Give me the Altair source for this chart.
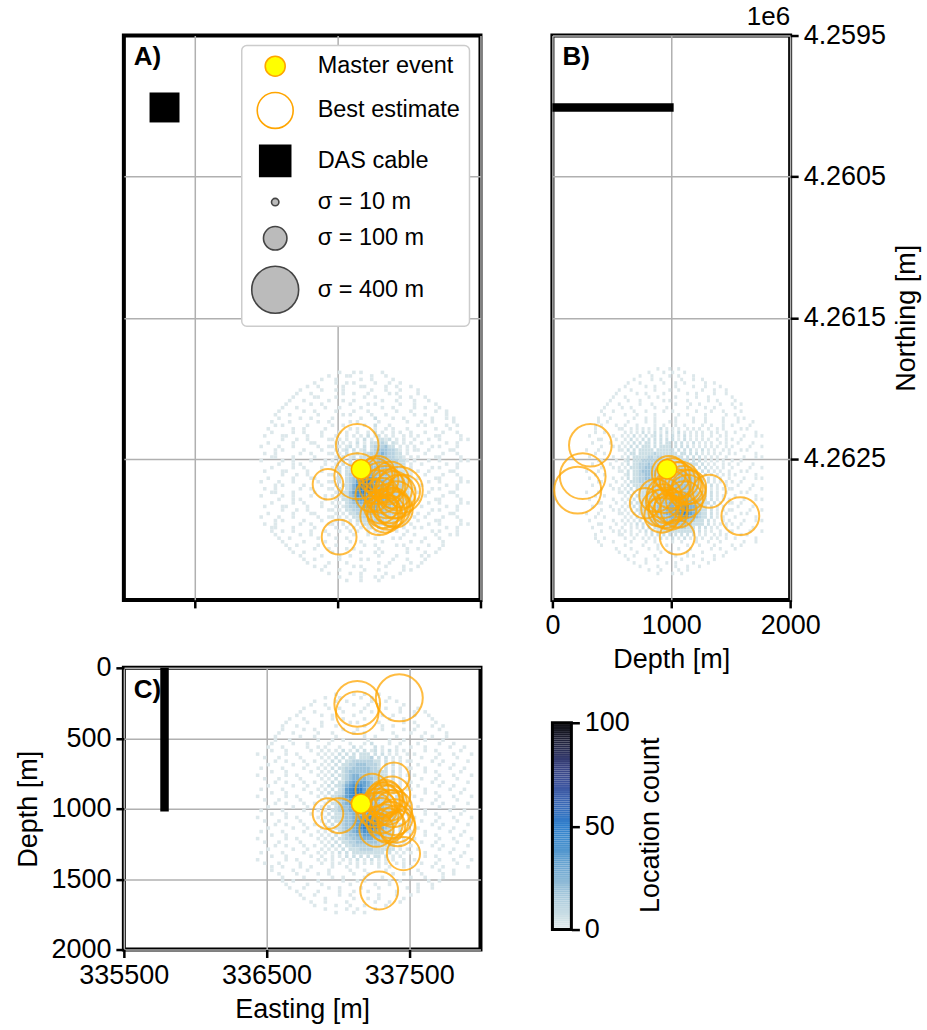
import altair as alt
import pandas as pd

FONT = "Liberation Sans"
ORANGE = "#ffa500"

# ---------------------------------------------------------------- extents
EAST_RANGE = [335500, 338000]
NORTH_RANGE = [4259500, 4263500]
DEPTH_RANGE = [0, 2000]

# ---------------------------------------------------------- master event
master_east = [337163]
master_north = [4262574]
master_depth = [965]

# ------------------------------------------------ best-estimate locations
event_east = [337136, 337136, 337431, 337290, 337460, 336931, 337009, 337393,
              337260, 337300, 337330, 337350, 337280, 337390, 337420, 337310,
              337340, 337360, 337380, 337320, 337350, 337300, 337400, 337270,
              337370, 337240, 337330, 337410]
event_north = [4262404, 4262623, 4262722, 4262906, 4262730, 4262680, 4263055, 4262815,
               4262620, 4262650, 4262680, 4262700, 4262600, 4262720, 4262740, 4262760,
               4262800, 4262830, 4262850, 4262870, 4262880, 4262840, 4262860, 4262700,
               4262650, 4262760, 4262900, 4262790]
event_depth = [319, 255, 213, 1581, 1319, 1035, 1050, 780,
               1010, 1050, 1100, 1120, 980, 1000, 1140, 940,
               930, 960, 900, 950, 990, 1000, 1060, 1150,
               1080, 870, 920, 1110]
event_sigma = [330, 380, 400, 260, 200, 170, 220, 170,
               220, 230, 240, 220, 210, 250, 230, 220,
               210, 230, 240, 210, 220, 200, 230, 210,
               240, 200, 220, 250]

# ------------------------------------------------------------- DAS cable
das_east = [335785]
das_north = [4260010]
das_top = [0]
das_bottom = [1020]

# ----------------------------------------------------------- legend rows
LEGEND_LABELS = ["Master event", "Best estimate", "DAS cable",
                 "σ = 10 m", "σ = 100 m", "σ = 400 m"]
LEGEND_SIGMAS = [10, 100, 400]

# marker area (px^2) per metre of location uncertainty
SIGMA_AREA = 5.52

# ------------------------------------------ location-count grids, 25 m bins
BIN = 25
LEVEL_COUNT = {"1": 1, "2": 6, "3": 12, "4": 18, "5": 25, "6": 32, "7": 40, "8": 48, "9": 60}
HEAT_STOPS = [0, 10, 20, 30, 40, 50, 60, 70, 80, 90, 100]
HEAT_COLORS = ["#e0eaec", "#bfd7e2", "#97bfd8", "#6ea7d2", "#4a92cd", "#2f7fcc",
               "#3a69b6", "#3d539c", "#373f7a", "#22243f", "#08080a"]

# map view: columns = easting from 336450, rows = northing from 4261875
A_EAST0, A_NORTH0 = 336450, 4261875
A_ROWS = [
    "......................1...1.1.....1",
    "...................1....11.....1...1",
    ".................1...1......1..1.....1",
    "...............1.....1..1.1.....1...1..1",
    ".............1..1......1....11.....1..1...1",
    "...........1.....1...1.1.......1...1...1....1",
    "..........1...1........1..1...1.....1.1.....1",
    ".........1.....11....1.......1..1......1..1...1",
    "........1...1......1...1..1.......1...1....1...1",
    ".......1......1..1.......1....1.1......1...1.....1",
    "......1...1.......1...1.....1.....1..1.....1..1...1",
    ".....1......1..1.....1....1...1.......1...1......1..1",
    "....1...1.......1......1.1.....1...1.......1..1.....1",
    ".....1.....1..1.....1.......1...2....1..1.......1...1.1",
    "...1....1.......1..1.....1.1.....1.......1...1..1.....1",
    "....1.1......1......1..1.....1..2...1.......1.1.....1..1",
    "..1......1..1.....1......1.1....1..1.1...1.......1...1...",
    "...1.....1..1....1.." "..1.1..1..1.2.1..1.1..1." "..1....1...1...",
    ".1....11.....1...1.." ".1..1.1.1.2.12.1.1..1.1." "1....11.....1..",
    "......1...1..1.....1" "1.1.1..1.2.1.2212.1.1..1" "...1..1.....1.1",
    "..1......1....11...." ".1.1.1.2.1.22232.21.1.1." ".1......1..1...",
    "1....1...1......1..1" "1.1.12.1.2.2333422.1.1.1" "....1.1....1...",
    "....1.1.....1....1.." ".1.12.2.12.234443321.1.1" "1..1.....11....",
    ".1..1......1..1....1" "1.1.2.12.22334543322.1.." "..1....1...1...",
    "...11....1.....1...." ".1.2.12.2223344433221.1." "1....11.....1..",
    "1.....1..1....1...1." "1.12.2.222333443333221.1" "...1..1.....1.1",
    ".....1...1.1......1." ".1.2.2223334343433322.1." ".1......1..1...",
    "...1.....1..1....1.." "1.2.22233444444433322.1." "....1.1....1...",
    ".1....11.....1...1.." ".12.2233455544443332211." "1..1.....11....",
    "......1...1..1.....1" "1.2.2334566544443332211." "..1....1...1...",
    "..1......1....11...." ".12.2345677654443332221." "1....11.....1..",
    "1....1...1......1..1" "1.2.2346788765544433221." "...1..1.....1.1",
    "....1.1.....1....1.." ".1.22357889765544433221." ".1......1..1...",
    ".1..1......1..1....1" "1.2.23578897655444332211" "....1.1....1...",
    "...11....1.....1...." ".1.22467887765544433221." "1..1.....11....",
    "1.....1..1....1...1." "1.122457776665554433221." "..1....1...1...",
    ".....1...1.1......1." ".1.22356666655554433221." "1....11.....1..",
    "...1.....1..1....1.." "1.1.2345555555544433221." "...1..1.....1.1",
    ".1....11.....1...1.." ".1.12334455554444332211." ".1......1..1...",
    "......1...1..1.....1" "1.1.2233444454443332211." "....1.1....1...",
    "..1......1....11...." ".1.1.223334444433322211." "1..1.....11....",
    "1....1...1......1..1" "1.1.1.22333333333222.1.1" "..1....1...1...",
    "....1.1.....1....1.." ".1.1.1.2223333322221.1.." "1....11.....1..",
    ".1..1......1..1....1" "1..1.1.1.2222222221.1.1." "...1..1.....1.1",
    "...11....1.....1...." ".1..1.1.1.12.2.2.21.1..1" ".1......1..1...",
    "...1..1..1....1...1." "..1..1.1..1.1.1.1.1..1.." "....1.1....1...",
    "....1......1..1....1......1...1..1......1..1.....1...1.1",
    ".....1..1.......1....1..1.......1....1.1......1...1...",
    "......1.....1.....1......1..1.....1.......1..1.....1..",
    ".......1..1.....1....1.......1..1.....1.1......1...1",
    "........1......1...1....1.1......1.......1..1.....1",
    ".........1..1.......1.......1...1.1......1....1..1",
    "...........1.....1....1..1.......1....1......1.1",
    "............1..1......1.....1.1......1...1....1",
    ".............1.....1....1........1..1.....1..1",
    "...............1..1.......1.1......1....1...1",
    ".................1....1......1...1......1.1",
    "...................1.....1..1......1...1",
    "......................1.....1...1.1..1",
    "........................1...1....1",
]

# depth section seen from the east: columns = depth from 275 m, rows = northing from 4261850
B_DEPTH0, B_NORTH0 = 275, 4261850
B_ROWS = [
    "........................1...1..1",
    ".....................1....1..1...1",
    "..................1...1.....1..1....1",
    "................1.....1..1......1...1..1",
    "..............1...1.......1...1..1......1..1",
    ".............1......1..1......1.....1...1....1",
    "...........1...1.......1....1..1.......1...1...1",
    "..........1......1..1.....1.......1..1.....1...1",
    ".........1...1.......1..1.....1......1...1.......1",
    "........1.....1...1.......1.1.....1......1..1.....1",
    ".......1...1......1...1.......1....1..1......1...1..1",
    "......1.....1..1.......1...1......1.....1..1......1..",
    ".....1...1......1...1.....1..1.......1....1...1.....1",
    "......1......1...1.....1.......1..1.....1......1..1...",
    "....1...1.......1...1..1......1.....1...1.....1....1.1",
    "....1..1...." "..1.....1..1....1.1.....1...1.....1.." "..1....1...",
    "...1.1....1." ".1...1.....1..1...1..1.....1..1...1.." "1.....1....",
    "...1.......1" "1..1.1.1.1.1.2.1.1.1..1.1.1..1..1.1.." "...1.1.....",
    "...1..1....." ".1.1.1.2.1.2.1.2.1.2.1.1.1.1..1.1..1." ".1......1..",
    ".1.......1.." "1.1.2.1.2.12.2.1.2.1.2.1.1.1..1..1.1." "....1...1.1",
    "....11....1." ".1.2.1.2.2.2.2.2.2.1.2.1.1.1.1..1..1." "1..1.......",
    "..1.....1..." "1.1.2.2.22.2.2.22.2.2.1.2.1.1.1..1.1." "..1....1...",
    ".....1...1.1" ".1.2.2.222.2.2222.2.2.2.1.1.1.1.1..1." "1.....1...1",
    "1...1......1" "1.2.2.22222.222222.2.2.2.1.2.1.1..1.1" "...1.1.....",
    "...1..1....." ".1.22.2222232222222.22.2.2.1.1.1.1..1" ".1......1..",
    ".1.......1.." "1.2.22222332332222222.2.2.2.1.1.1..1." "....1...1.1",
    "....11....1." ".12.2223333333332222222.2.2.1.1.1.1.." "1..1.......",
    "..1.....1..." "1.2.2233343333333322222222.2.1.1..1.1" "..1....1...",
    ".....1...1.1" ".1.2223344433333333333222.2.2.1.1.1.." "1.....1...1",
    "1...1......1" "1.2.2234444433333333433322.2.2.1.1..1" "...1.1.....",
    "...1..1....." ".12.22334444333333344443322.2.1.1.1.1" ".1......1..",
    ".1.......1.." "1.2.223344433333334444443322.2.1.1..1" "....1...1.1",
    "....11....1." ".1.2223333333333344444443322.2.1.1.1." "1..1.......",
    "..1.....1..." "1.2.22233333333344444444332.2.2.1..1." "..1....1...",
    ".....1...1.1" ".1.2.2223333333444444444332.2.1.1.1.1" "1.....1...1",
    "1...1......1" "1.2.2.22233333344444444433222.2.1..1." "...1.1.....",
    "...1..1....." ".1.2.222333333444455554433222.2.1.1.." ".1......1..",
    ".1.......1.." "1.1.2.22333334444555555443322.2.1.1.1" "....1...1.1",
    "....11....1." ".1.2.2223333444455556655443222.2.1..1" "1..1.......",
    "..1.....1..." "1.1.2.22333344445556677554322.2.1.1.." "..1....1...",
    ".....1...1.1" ".1.1.222333344455566787654322.2.1.1.1" "1.....1...1",
    "1...1......1" "1.1.2.22233344455567787654322.2.1..1." "...1.1.....",
    "...1..1....." ".1.1.2.2233334445556676554322.2.1.1.." ".1......1..",
    ".1.......1.." "1.1.1.2.22333344455555443222.2.1..1.1" "....1...1.1",
    "....11....1." ".1.1.2.2.2233334444444332222.2.1.1.1." "1..1.......",
    "..1.....1..." "1..1.1.2.2.22333333333222.2.2.1.1..1." "..1....1...",
    ".....1...1.1" ".1.1..1.2.2.2222222222222.2.1.1..1..1" "1.....1...1",
    "...1.......1" "1..1.1..1.2.2.2.2.2.2.2.2.1.1..1.1.1." "...1.1.....",
    "...1..1....." ".1..1..1.1.1.2.1.2.1.2.1.1.1..1.1..1." ".1......1..",
    "....1....1.." "...1....1..1.....1..1....1...1...1..." "....1...1..",
    ".....1......" ".1.....1....1..1......1...1....1....." "1..1.......",
    "..........1....1.....1..1......1...1......1..1....1",
    "...........1.....1.......1..1.....1....1.......1",
    ".............1..1......1......1...1.1......1..1",
    "..............1.....1...1.......1......1...1",
    "................1...1......1..1.....1....1",
    "..................1.....1.....1...1...1",
    ".....................1...1.....1..1",
    "........................1....1..1",
]

# depth section seen from the south: columns = easting from 336425, rows = depth from 175 m
C_EAST0, C_DEPTH0 = 336425, 175
C_ROWS = [
    "......................1....1..1...1",
    "...................1...1.....1..1....1",
    "................1.....1..1......1...1..1",
    "...............1...1.......1...1..1......1",
    ".............1......1..1......1.....1...1....1",
    "............1...1.......1....1..1.......1...1..1",
    "...........1......1..1.....1.......1..1.....1...1",
    ".........1...1.......1..1.....1......1...1.......1",
    "........1.....1...1.......1.1.....1......1..1.....1",
    ".......1...1......1...1.......1....1..1......1...1..1",
    ".......1.....1..1.......1...1......1.....1..1......1.",
    "......1...1......1...1.....1..1.......1....1...1.....1",
    ".....1......1...1.....1.......1..1.....1......1..1...1",
    ".....1...1.......1...1..1......1.....1...1.....1....1.",
    "....1.....1...1..." "..1.....1...1.2....1..1.." "..1.....1...1.....",
    "...1...1......1..1" ".1...1...2.1...2.1...1..." "1...1......1...1..",
    "....1...1......1.." "1.1.1.2.1.2.2.12.1.2.1.1." "....1..1......1...",
    "1.......1..1.....1" ".1.1.2.2.2.222.2.2.1.1..1" ".1......1...1....1",
    "..1...1.....1....." "1.1.2.2.22.2223.2.2.1.1.." "...1...1.....1....",
    ".....1..1....1..1." ".1.2.2.2233333322.2.1.1.1" "1.....1..1......1.",
    "...1......1...1..." "1.1.2.22334443332.2.2.1.." "..1.....1...1.....",
    ".1.....1.....1...1" ".1.2.223344444332.2.1.1.1" "1...1......1...1..",
    "....1...1......1.." "1.1.2.2344444433322.2.1.." "....1..1......1...",
    "1.......1..1.....1" ".1.2.22345544433222.2.1.1" ".1......1...1....1",
    "..1...1.....1....." "1.1.2.2345555443322.2.1.." "...1...1.....1....",
    ".....1..1....1..1." ".1.2.22456666543322.2.1.1" "1.....1..1......1.",
    "...1......1...1..." "1.2.223567776543322.2.1.." "..1.....1...1.....",
    ".1.....1.....1...1" ".1.2.23678886543322.2.1.1" "1...1......1...1..",
    "....1...1......1.." "1.2.223678886544332.2.1.." "....1..1......1...",
    "1.......1..1.....1" ".1.22346788765443322.2.1." ".1......1...1....1",
    "..1...1.....1....." "1.2.2345677665544332.2.1." "...1...1.....1....",
    ".....1..1....1..1." ".1.22345666655544332.2.1." "1.....1..1......1.",
    "...1......1...1..." "1.2.2344556655554433.2.1." "..1.....1...1.....",
    ".1.....1.....1...1" ".1.22344555566655433.2.1." "1...1......1...1..",
    "....1...1......1.." "1.2.2234455566665543322.1" "....1..1......1...",
    "1.......1..1.....1" ".1.22234455667766543322.." ".1......1...1....1",
    "..1...1.....1....." "1.2.223445677887654332.1." "...1...1.....1....",
    ".....1..1....1..1." ".1.2.2344567888765433.2.1" "1.....1..1......1.",
    "...1......1...1..." "1.2.22344567888765432.2.." "..1.....1...1.....",
    ".1.....1.....1...1" ".1.2.2344566777654332.2.1" "1...1......1...1..",
    "....1...1......1.." "1.1.2.234455666554332.2.." "....1..1......1...",
    "1.......1..1.....1" ".1.2.22334455554433222.1." ".1......1...1....1",
    "..1...1.....1....." "1.1.2.2233444444332222.1." "...1...1.....1....",
    ".....1..1....1..1." ".1.2.2.22333333332222.1.." "1.....1..1......1.",
    "...1......1...1..." "1.1.1.2.2223333222222.1.1" "..1.....1...1.....",
    ".1.....1.....1...1" ".1.1.2.2.222222222.2.1.1." "1...1......1...1..",
    "....1...1......1.." "1..1.1.2.2.2.2.22.2.1.1.." "....1..1......1...",
    "1.......1..1.....1" ".1.1..1.1.2.1.2.1.1.1..1." ".1......1...1....1",
    "..1...1.....1....." "1..1.1..1.1.1.1.1.1..1.1." "...1...1.....1....",
    "....1..1....1..1.." "...1...1..1.....1..1...1." "1.....1..1......1.",
    "....1.....1...1..." "..1.....1...1.....1......" "..1.....1...1.....",
    "......1....1.....1..1......1...1......1..1....1.....1..1",
    ".......1.....1.......1..1.....1....1.......1...1....1",
    ".......1..1......1......1...1.1......1..1.......1..1",
    "........1.....1...1.......1......1...1.......1...1",
    ".........1...1......1..1.....1....1.......1..1...1",
    "...........1.....1.....1...1...1.......1.....1",
    "............1...1......1..1.......1....1...1",
    ".............1.....1.......1...1..1......1",
    "...............1...1.....1.......1...1..1",
    "................1.....1...1...1.....1",
    "...................1.....1..1....1",
    "......................1....1..1",
]


def grid_cells(rows, x0, y0, xf, yf):
    """One rectangle per occupied bin of a character grid."""
    recs = []
    for i, row in enumerate(rows):
        for j, ch in enumerate(row):
            if ch in LEVEL_COUNT:
                recs.append({xf: x0 + BIN * j, xf + "_2": x0 + BIN * (j + 1),
                             yf: y0 + BIN * i, yf + "_2": y0 + BIN * (i + 1),
                             "count": LEVEL_COUNT[ch]})
    return pd.DataFrame(recs)


cells_a = grid_cells(A_ROWS, A_EAST0, A_NORTH0, "east", "north")
cells_b = grid_cells(B_ROWS, B_DEPTH0, B_NORTH0, "depth", "north")
cells_c = grid_cells(C_ROWS, C_EAST0, C_DEPTH0, "east", "depth")

events = pd.DataFrame({"east": event_east, "north": event_north,
                       "depth": event_depth, "sigma": event_sigma})
events["area"] = events["sigma"] * SIGMA_AREA
master = pd.DataFrame({"east": master_east, "north": master_north, "depth": master_depth})
das = pd.DataFrame({"east": das_east, "north": das_north, "top": das_top, "bottom": das_bottom})

# ---------------------------------------------------------------- scales
east_scale = alt.Scale(domain=EAST_RANGE, nice=False, zero=False)
north_scale = alt.Scale(domain=NORTH_RANGE, nice=False, zero=False, reverse=True)
depth_x_scale = alt.Scale(domain=DEPTH_RANGE, nice=False)
depth_y_scale = alt.Scale(domain=DEPTH_RANGE, nice=False, reverse=True)
heat_scale = alt.Scale(domain=HEAT_STOPS, range=HEAT_COLORS, clamp=True)

heat_color = alt.Color("count:Q", scale=heat_scale, legend=None)


def heat_layer(df, x, x_scale, x_axis, y, y_scale, y_axis):
    return alt.Chart(df).mark_rect().encode(
        x=alt.X(f"{x}:Q", scale=x_scale, axis=x_axis), x2=f"{x}_2:Q",
        y=alt.Y(f"{y}:Q", scale=y_scale, axis=y_axis), y2=f"{y}_2:Q",
        color=heat_color,
    )


def event_layers(x, y):
    rings = alt.Chart(events).mark_point(
        shape="circle", filled=False, color=ORANGE, strokeWidth=2,
        opacity=1, strokeOpacity=0.75
    ).encode(x=f"{x}:Q", y=f"{y}:Q", size=alt.Size("area:Q", scale=None))
    star = alt.Chart(master).mark_point(
        shape="circle", filled=True, fill="#ffff00", stroke=ORANGE,
        strokeWidth=1.5, size=380, opacity=1
    ).encode(x=f"{x}:Q", y=f"{y}:Q")
    return rings, star


def panel_label(text, x, xv, y, yv):
    df = pd.DataFrame({"label": [text], x: [xv], y: [yv]})
    return alt.Chart(df).mark_text(
        align="left", baseline="alphabetic", dx=10, dy=30,
        fontSize=26, fontWeight="bold", font=FONT, color="black"
    ).encode(x=f"{x}:Q", y=f"{y}:Q", text="label:N")


# ------------------------------------------------------------ panel A: map
a_x_axis = alt.Axis(values=[336000, 337000, 338000], labels=False, title=None)
a_y_axis = alt.Axis(values=[4260500, 4261500, 4262500], labels=False, ticks=False, title=None)
heat_a = heat_layer(cells_a, "east", east_scale, a_x_axis, "north", north_scale, a_y_axis)
das_a = alt.Chart(das).mark_point(shape="square", filled=True, color="black",
                                  size=900, opacity=1).encode(x="east:Q", y="north:Q")
rings_a, star_a = event_layers("east", "north")

legend_sizes = [400, 1296, 961] + [s * SIGMA_AREA for s in LEGEND_SIGMAS]
leg = alt.Legend(title=None, orient="none", legendX=118, legendY=10,
                 labelFontSize=23.5, labelFont=FONT, labelColor="black", labelLimit=400,
                 labelOffset=18, rowPadding=9, padding=9, symbolStrokeWidth=1.6,
                 symbolOpacity=1, fillColor="white", strokeColor="#cccccc",
                 cornerRadius=5)
legend_a = alt.Chart(pd.DataFrame({"entry": LEGEND_LABELS})).transform_filter(
    "false").mark_point(filled=True, opacity=1, fillOpacity=1, strokeOpacity=1).encode(
    fill=alt.Fill("entry:N", scale=alt.Scale(
        domain=LEGEND_LABELS,
        range=["#ffff00", "#ffffff", "#000000", "#bbbbbb", "#bbbbbb", "#bbbbbb"]), legend=leg),
    stroke=alt.Stroke("entry:N", scale=alt.Scale(
        domain=LEGEND_LABELS,
        range=[ORANGE, ORANGE, "#000000", "#444444", "#444444", "#444444"]), legend=leg),
    shape=alt.Shape("entry:N", scale=alt.Scale(
        domain=LEGEND_LABELS,
        range=["circle", "circle", "square", "circle", "circle", "circle"]), legend=leg),
    size=alt.Size("entry:N", scale=alt.Scale(type="ordinal", domain=LEGEND_LABELS,
                                              range=legend_sizes), legend=leg),
    opacity=alt.value(1),
)
label_a = panel_label("A)", "east", EAST_RANGE[0], "north", NORTH_RANGE[0])

panel_a = alt.layer(heat_a, das_a, rings_a, star_a, legend_a, label_a).properties(
    width=357, height=565)

# ------------------------------------------- panel B: depth vs northing
b_x_axis = alt.Axis(values=[0, 1000, 2000], title="Depth [m]", format="d")
b_y_axis = alt.Axis(orient="right", values=[4259500, 4260500, 4261500, 4262500],
                    labelExpr="format(datum.value / 1e6, '.4f')", title="Northing [m]",
                    titleAngle=270, titleBaseline="top")
heat_b = heat_layer(cells_b, "depth", depth_x_scale, b_x_axis, "north", north_scale, b_y_axis)
das_b = alt.Chart(das).mark_rule(color="black", strokeWidth=8.5, strokeCap="butt").encode(
    x="top:Q", x2="bottom:Q", y="north:Q")
rings_b, star_b = event_layers("depth", "north")
label_b = panel_label("B)", "depth", DEPTH_RANGE[0], "north", NORTH_RANGE[0])
offset_b = alt.Chart(pd.DataFrame({"label": ["1e6"], "depth": [DEPTH_RANGE[1]],
                                   "north": [NORTH_RANGE[0]]})).mark_text(
    align="right", baseline="alphabetic", dy=-11, fontSize=26, font=FONT, color="black"
).encode(x="depth:Q", y="north:Q", text="label:N")

panel_b = alt.layer(heat_b, das_b, rings_b, star_b, label_b, offset_b).properties(
    width=238, height=565)

# -------------------------------------------- panel C: easting vs depth
c_x_axis = alt.Axis(values=[335500, 336500, 337500], title="Easting [m]", format="d")
c_y_axis = alt.Axis(values=[0, 500, 1000, 1500, 2000], title="Depth [m]", format="d")
heat_c = heat_layer(cells_c, "east", east_scale, c_x_axis, "depth", depth_y_scale, c_y_axis)
das_c = alt.Chart(das).mark_rule(color="black", strokeWidth=8.5, strokeCap="butt").encode(
    x="east:Q", y="top:Q", y2="bottom:Q")
rings_c, star_c = event_layers("east", "depth")
label_c = panel_label("C)", "east", EAST_RANGE[0], "depth", DEPTH_RANGE[0])

panel_c = alt.layer(heat_c, das_c, rings_c, star_c, label_c).properties(
    width=357, height=282)

# -------------------------------------------------------------- colorbar
cb_axis = alt.Axis(orient="right", values=[0, 50, 100], title="Location count",
                   titleAngle=270, titleBaseline="top", titleY=157, grid=False)
cb_steps = pd.DataFrame({"v": list(range(100))})
cb_fill = alt.Chart(cb_steps).transform_calculate(v_2="datum.v + 1").mark_rect().encode(
    y=alt.Y("v:Q", scale=alt.Scale(domain=[-9.66, 126.6], nice=False, zero=False),
            axis=cb_axis),
    y2="v_2:Q",
    color=alt.Color("v:Q", scale=heat_scale, legend=None),
)
cb_frame = alt.Chart(pd.DataFrame({"lo": [0], "hi": [100]})).mark_rect(
    filled=False, color="black", strokeWidth=3).encode(y="lo:Q", y2="hi:Q")
colorbar = alt.layer(cb_fill, cb_frame).properties(
    width=19, height=282, view=alt.ViewBackground(strokeWidth=0))

# ---------------------------------------------------------------- layout
chart = alt.concat(
    panel_a, panel_b, panel_c, colorbar,
    columns=2, spacing={"row": 68, "column": 72}, bounds="flush",
).properties(
    padding={"left": 12, "top": 1, "right": 5, "bottom": 5}
).configure(font=FONT).configure_view(
    stroke="black", strokeWidth=4
).configure_axis(
    labelFont=FONT, titleFont=FONT, labelFontSize=27, titleFontSize=27,
    labelColor="black", titleColor="black", titleFontWeight="normal",
    tickColor="black", tickWidth=2.5, tickSize=8, domain=False,
    gridColor="#b0b0b0", gridWidth=1.5, gridOpacity=1,
    labelPadding=5, titlePadding=8, labelFlush=False, labelOverlap=False,
).configure_legend(strokeWidth=1.5, symbolOpacity=1)

chart.save("out.html", embed_options={"renderer": "svg", "actions": False})
